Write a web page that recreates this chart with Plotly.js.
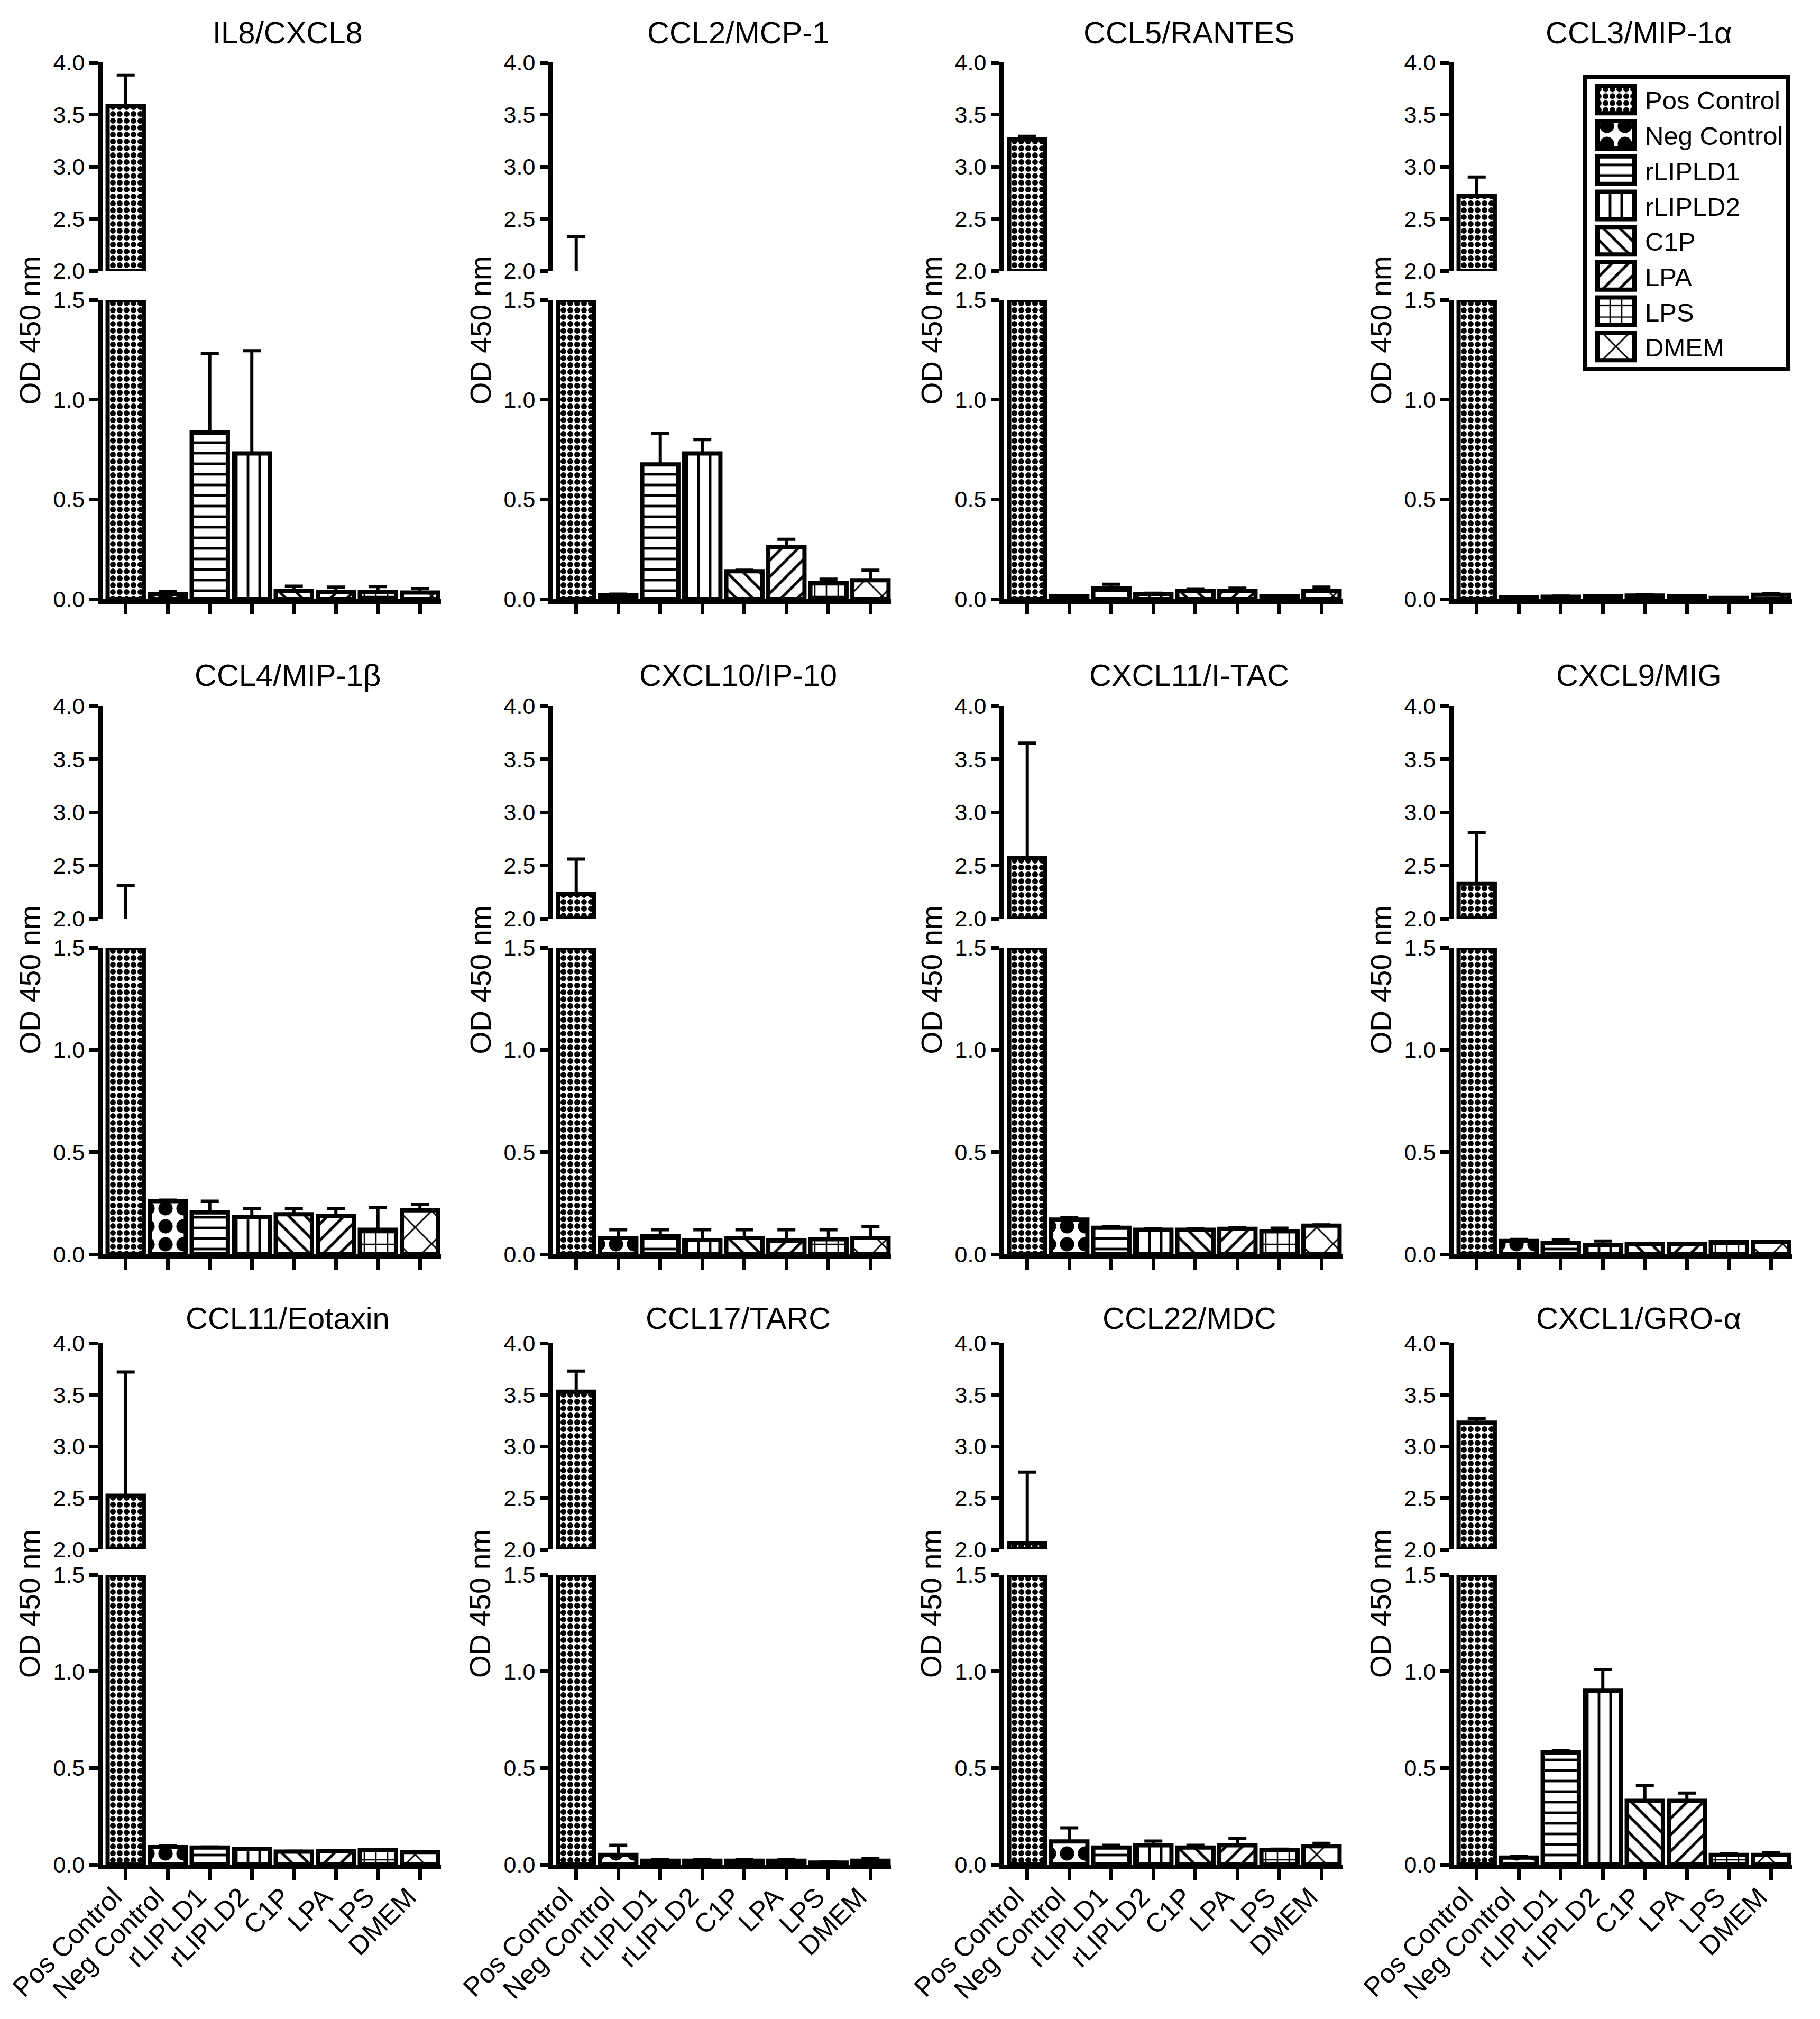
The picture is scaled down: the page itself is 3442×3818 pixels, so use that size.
<!DOCTYPE html>
<html>
<head>
<meta charset="utf-8">
<script src="https://cdn.plot.ly/plotly-3.0.1.min.js"></script>
<style>html,body{margin:0;padding:0;background:#fff;}</style>
</head>
<body>
<div id="chart"></div>
<script>
// ---------------- DATA ----------------
const categories = ['Pos Control','Neg Control','rLIPLD1','rLIPLD2','C1P','LPA','LPS','DMEM'];
const panelTitles = ['IL8/CXCL8','CCL2/MCP-1','CCL5/RANTES','CCL3/MIP-1α',
                     'CCL4/MIP-1β','CXCL10/IP-10','CXCL11/I-TAC','CXCL9/MIG',
                     'CCL11/Eotaxin','CCL17/TARC','CCL22/MDC','CXCL1/GRO-α'];
// mean OD 450 nm per category
const il8    = [3.58, 0.025, 0.835, 0.73, 0.04, 0.035, 0.035, 0.033];
const ccl2   = [1.92, 0.02, 0.675, 0.73, 0.14, 0.26, 0.08, 0.095];
const ccl5   = [3.26, 0.015, 0.055, 0.025, 0.04, 0.04, 0.015, 0.04];
const ccl3   = [2.72, 0.008, 0.012, 0.014, 0.018, 0.014, 0.006, 0.022];
const ccl4   = [1.90, 0.26, 0.205, 0.183, 0.196, 0.187, 0.12, 0.215];
const cxcl10 = [2.23, 0.08, 0.09, 0.07, 0.08, 0.067, 0.074, 0.08];
const cxcl11 = [2.57, 0.17, 0.13, 0.12, 0.12, 0.125, 0.113, 0.14];
const cxcl9  = [2.33, 0.065, 0.055, 0.045, 0.05, 0.05, 0.06, 0.06];
const ccl11  = [2.52, 0.09, 0.088, 0.08, 0.067, 0.07, 0.074, 0.065];
const ccl17  = [3.53, 0.05, 0.02, 0.02, 0.02, 0.02, 0.01, 0.02];
const ccl22  = [2.06, 0.12, 0.088, 0.10, 0.088, 0.10, 0.075, 0.095];
const cxcl1  = [3.23, 0.036, 0.58, 0.90, 0.33, 0.33, 0.05, 0.05];
// upper error (SD) per category
const il8Err    = [0.30, 0.013, 0.395, 0.515, 0.025, 0.025, 0.028, 0.02];
const ccl2Err   = [0.41, 0.005, 0.155, 0.07, 0.005, 0.04, 0.02, 0.05];
const ccl5Err   = [0.03, 0.003, 0.02, 0.005, 0.012, 0.015, 0.003, 0.02];
const ccl3Err   = [0.18, 0.002, 0.003, 0.003, 0.006, 0.003, 0.002, 0.007];
const ccl4Err   = [0.41, 0.005, 0.055, 0.04, 0.027, 0.036, 0.11, 0.028];
const cxcl10Err = [0.33, 0.04, 0.03, 0.05, 0.04, 0.053, 0.046, 0.057];
const cxcl11Err = [1.08, 0.01, 0.005, 0.004, 0.004, 0.006, 0.015, 0.004];
const cxcl9Err  = [0.48, 0.008, 0.015, 0.02, 0.004, 0.003, 0.004, 0.004];
const ccl11Err  = [1.20, 0.008, 0.003, 0.002, 0.002, 0.002, 0.002, 0.002];
const ccl17Err  = [0.20, 0.05, 0.005, 0.005, 0.005, 0.005, 0.003, 0.01];
const ccl22Err  = [0.69, 0.07, 0.012, 0.022, 0.012, 0.036, 0.005, 0.015];
const cxcl1Err  = [0.04, 0.005, 0.01, 0.11, 0.08, 0.04, 0.005, 0.01];
const lowerTicks = [0.0, 0.5, 1.0, 1.5];
const lowerTickText = ['0.0','0.5','1.0','1.5'];
const upperTicks = [2.0, 2.5, 3.0, 3.5, 4.0];
const upperTickText = ['2.0','2.5','3.0','3.5','4.0'];
const yTitle = 'OD 450 nm';

const panelMeans = [il8, ccl2, ccl5, ccl3, ccl4, cxcl10, cxcl11, cxcl9, ccl11, ccl17, ccl22, cxcl1];
const panelErrs  = [il8Err, ccl2Err, ccl5Err, ccl3Err, ccl4Err, cxcl10Err, cxcl11Err, cxcl9Err, ccl11Err, ccl17Err, ccl22Err, cxcl1Err];

// ---------------- STYLE / LAYOUT ----------------
const W = 3442, H = 3818;
const FONT = 'Liberation Sans, Arial, Helvetica, sans-serif';
const LOW_MAX = 1.5, UP_MIN = 2.0, UP_MAX = 4.0;
const colX = [194, 1046, 1899, 2749];
const PW = 640;
const rowTop = [118, 1335, 2540];   // pixel of 4.0
const rowBrkU = [512, 1737, 2930];  // pixel of 2.0
const rowBrkL = [567, 1792, 2978];  // pixel of 1.5
const rowZero = [1133, 2372, 3526]; // pixel of 0.0
const titleY = [62, 1277, 2492];

const patterns = [
  {shape:'.', size:13, solidity:0.55},
  {shape:'.', size:34, solidity:0.5},
  {shape:'-', size:20, solidity:0.24},
  {shape:'|', size:22, solidity:0.22},
  {shape:'\\', size:22, solidity:0.24},
  {shape:'/', size:22, solidity:0.24},
  {shape:'+', size:22, solidity:0.22},
  {shape:'x', size:44, solidity:0.13}
];

const data = [];
const layout = {
  width: W, height: H,
  margin: {l:0, r:0, t:0, b:0},
  paper_bgcolor: 'white', plot_bgcolor: 'rgba(0,0,0,0)',
  barmode: 'overlay',
  font: {family: FONT, color: 'black', size: 40},
  showlegend: true,
  legend: {
    x: 2993 / W, y: 1 - 142 / H, xanchor: 'left', yanchor: 'top',
    bordercolor: 'black', borderwidth: 8, bgcolor: 'white',
    font: {family: FONT, size: 49, color: 'black'},
    traceorder: 'normal', itemwidth: 100, tracegroupgap: 0
  },
  annotations: []
};

function barTrace(cat, i, y, base, err, errVisible, xa, ya, showLegend) {
  const t = {
    type: 'bar', x: [cat], y: [y], xaxis: xa, yaxis: ya,
    width: 0.86, name: cat, legendgroup: cat, showlegend: showLegend,
    hoverinfo: 'skip',
    marker: {
      color: 'white',
      line: {color: 'black', width: 8},
      pattern: Object.assign({fgcolor: 'black', bgcolor: 'white', fillmode: 'replace'}, patterns[i])
    },
    error_y: {type: 'data', symmetric: false, array: [err], arrayminus: [0],
              visible: errVisible, color: 'black', thickness: 6, width: 17}
  };
  if (base !== null) t.base = [base];
  return t;
}

panelTitles.forEach((title, p) => {
  const row = Math.floor(p / 4), col = p % 4;
  const xa = 'x' + (p + 1), yLow = 'y' + (p + 1), yUp = 'y' + (p + 13);
  const vals = panelMeans[p], errs = panelErrs[p];
  categories.forEach((cat, i) => {
    const v = vals[i], e = errs[i];
    data.push(barTrace(cat, i, Math.min(v, LOW_MAX), null, e, v <= LOW_MAX, xa, yLow, p === 0));
    if (v > LOW_MAX) {
      const b = v >= UP_MIN ? UP_MIN : 0;
      data.push(barTrace(cat, i, v - b, b, e, true, xa, yUp, false));
    }
  });
  const x0 = colX[col];
  layout['xaxis' + (p + 1)] = {
    domain: [x0 / W, (x0 + PW) / W], anchor: yLow,
    type: 'category', categoryorder: 'array', categoryarray: categories,
    range: [-0.55, 7.5], fixedrange: true,
    showline: true, linewidth: 9, linecolor: 'black',
    ticks: 'outside', ticklen: 20, tickwidth: 7, tickcolor: 'black',
    showgrid: false, zeroline: false,
    showticklabels: row === 2, tickangle: -45,
    ticklabelstandoff: -18, ticklabelshift: -22,
    tickfont: {family: FONT, size: 51, color: 'black'}
  };
  const yCommon = {
    anchor: xa, fixedrange: true, showgrid: false, zeroline: false,
    showline: true, linewidth: 9, linecolor: 'black',
    ticks: 'outside', ticklen: 16, tickwidth: 7, tickcolor: 'black',
    tickmode: 'array', tickfont: {family: FONT, size: 43, color: 'black'}
  };
  layout['yaxis' + (p + 1)] = Object.assign({}, yCommon, {
    domain: [1 - rowZero[row] / H, 1 - rowBrkL[row] / H],
    range: [0, LOW_MAX], tickvals: lowerTicks, ticktext: lowerTickText
  });
  layout['yaxis' + (p + 13)] = Object.assign({}, yCommon, {
    domain: [1 - rowBrkU[row] / H, 1 - rowTop[row] / H],
    range: [UP_MIN, UP_MAX], tickvals: upperTicks, ticktext: upperTickText
  });
  layout.annotations.push({
    text: title, xref: 'paper', yref: 'paper',
    x: (x0 + PW / 2 + 30) / W, y: 1 - titleY[row] / H,
    xanchor: 'center', yanchor: 'middle', showarrow: false,
    font: {family: FONT, size: 58, color: 'black'}
  });
  layout.annotations.push({
    text: yTitle, xref: 'paper', yref: 'paper',
    x: (x0 - 138) / W, y: 1 - ((rowTop[row] + rowZero[row]) / 2) / H,
    xanchor: 'center', yanchor: 'middle', showarrow: false, textangle: -90,
    font: {family: FONT, size: 55, color: 'black'}
  });
});

Plotly.newPlot('chart', data, layout, {displayModeBar: false, staticPlot: true}).then(gd => {
  // enlarge the legend swatches and give them the same fill patterns as the bars
  const barPaths = gd.querySelectorAll('.subplot.xy .barlayer .trace .point path');
  gd.querySelectorAll('.legend .traces .legendpoints path').forEach((el, i) => {
    el.setAttribute('d', 'M35,26H-35V-26H35Z');
    el.style.strokeWidth = '8px';
    el.style.stroke = 'black';
    if (barPaths[i]) {
      el.style.fill = barPaths[i].style.fill;
      el.style.fillOpacity = barPaths[i].style.fillOpacity || 1;
    }
  });
});
</script>
</body>
</html>
